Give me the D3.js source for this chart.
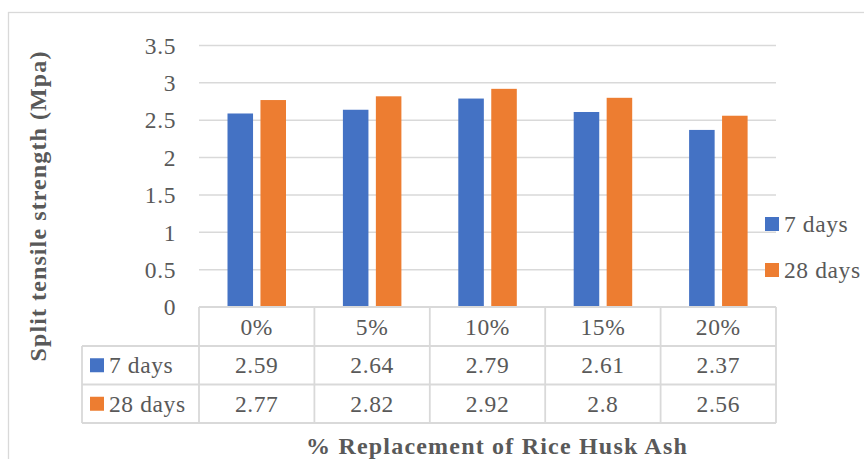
<!DOCTYPE html>
<html><head><meta charset="utf-8">
<script src="https://cdn.jsdelivr.net/npm/d3@7"></script>
<style>html,body{margin:0;padding:0;background:#fff;}svg{display:block;}</style>
</head><body>
<svg id="chart" width="864" height="459"></svg>
<script>
const categories = ["0%", "5%", "10%", "15%", "20%"];
const seriesNames = ["7 days", "28 days"];
const days7 = [2.59, 2.64, 2.79, 2.61, 2.37];
const days28 = [2.77, 2.82, 2.92, 2.8, 2.56];
const yTicks = [0, 0.5, 1, 1.5, 2, 2.5, 3, 3.5];
const tickLabels = ["0", "0.5", "1", "1.5", "2", "2.5", "3", "3.5"];
const colors = ["#4472C4", "#ED7D31"];
const seriesValues = [days7, days28];

const svg = d3.select("#chart");
const textColor = "#595959";
const lineColor = "#D9D9D9";

function addText(parent, px, py, str, opts = {}) {
  const t = parent.append("text")
    .attr("x", px).attr("y", py)
    .attr("dy", opts.dy == null ? "0.35em" : opts.dy)
    .attr("text-anchor", opts.anchor || "start")
    .attr("font-family", "Liberation Serif")
    .attr("font-size", opts.size || 23.5)
    .attr("letter-spacing", opts.ls == null ? 0.6 : opts.ls)
    .attr("fill", textColor)
    .text(str);
  if (opts.weight) t.attr("font-weight", opts.weight);
  if (opts.rotate) t.attr("transform", `rotate(${opts.rotate},${px},${py})`);
  return t;
}

// outer border
svg.append("rect").attr("x", 8.5).attr("y", 12.5).attr("width", 900).attr("height", 500)
  .attr("fill", "none").attr("stroke", lineColor).attr("stroke-width", 1.3);

const x = d3.scaleBand().domain(categories).range([199, 776]);
const x1 = d3.scaleBand().domain(seriesNames).range([28.5, 87]).paddingInner(0.225);
const y = d3.scaleLinear().domain([0, 3.5]).range([307, 45.5]);

// gridlines
svg.append("g").selectAll("line").data(yTicks.slice(1)).join("line")
  .attr("x1", 199).attr("x2", 776)
  .attr("y1", d => y(d)).attr("y2", d => y(d))
  .attr("stroke", lineColor).attr("stroke-width", 1.5);

// tick labels
const tl = svg.append("g");
yTicks.forEach((d, i) => addText(tl, 176, y(d), tickLabels[i], { anchor: "end" }));

// bars
seriesNames.forEach((s, si) => {
  svg.append("g").selectAll("rect").data(seriesValues[si]).join("rect")
    .attr("x", (d, i) => x(categories[i]) + x1(s))
    .attr("width", x1.bandwidth())
    .attr("y", d => y(d))
    .attr("height", d => y(0) - y(d))
    .attr("fill", colors[si]);
});

// data table
const rowTop = [307, 346, 384.5, 423];
const tableLeft = 82;
const tg = svg.append("g").attr("stroke", lineColor).attr("stroke-width", 1.8);
tg.append("line").attr("x1", 199).attr("x2", 776).attr("y1", rowTop[0]).attr("y2", rowTop[0]);
[1, 2, 3].forEach(r => tg.append("line").attr("x1", tableLeft).attr("x2", 776).attr("y1", rowTop[r]).attr("y2", rowTop[r]));
const vx = categories.map(c => x(c)).concat([x.range()[1]]);
vx.forEach(v => tg.append("line").attr("x1", v).attr("x2", v).attr("y1", rowTop[0]).attr("y2", rowTop[3]));
tg.append("line").attr("x1", tableLeft).attr("x2", tableLeft).attr("y1", rowTop[1]).attr("y2", rowTop[3]);

const txt = svg.append("g");
// category labels
categories.forEach(c => addText(txt, x(c) + x.bandwidth() / 2, (rowTop[0] + rowTop[1]) / 2, c, { anchor: "middle" }));

// value rows + table legend keys
seriesNames.forEach((s, si) => {
  const cy = (rowTop[si + 1] + rowTop[si + 2]) / 2;
  seriesValues[si].forEach((v, i) => addText(txt, x(categories[i]) + x.bandwidth() / 2, cy, String(v), { anchor: "middle" }));
  svg.append("rect").attr("x", 90).attr("y", cy - 7).attr("width", 14).attr("height", 14).attr("fill", colors[si]);
  addText(txt, 109, cy, s);
});

// right legend
const legY = [224, 270];
seriesNames.forEach((s, si) => {
  svg.append("rect").attr("x", 765).attr("y", legY[si] - 7).attr("width", 14).attr("height", 14).attr("fill", colors[si]);
  addText(txt, 784, legY[si], s);
});

// axis titles
addText(txt, 38, 206, "Split tensile strength (Mpa)", { anchor: "middle", rotate: -90, size: 24, ls: 1.1, weight: "bold" });
addText(txt, 497, 454, "% Replacement of Rice Husk Ash", { anchor: "middle", size: 24, ls: 1.2, weight: "bold", dy: 0 });
</script>
</body></html>
